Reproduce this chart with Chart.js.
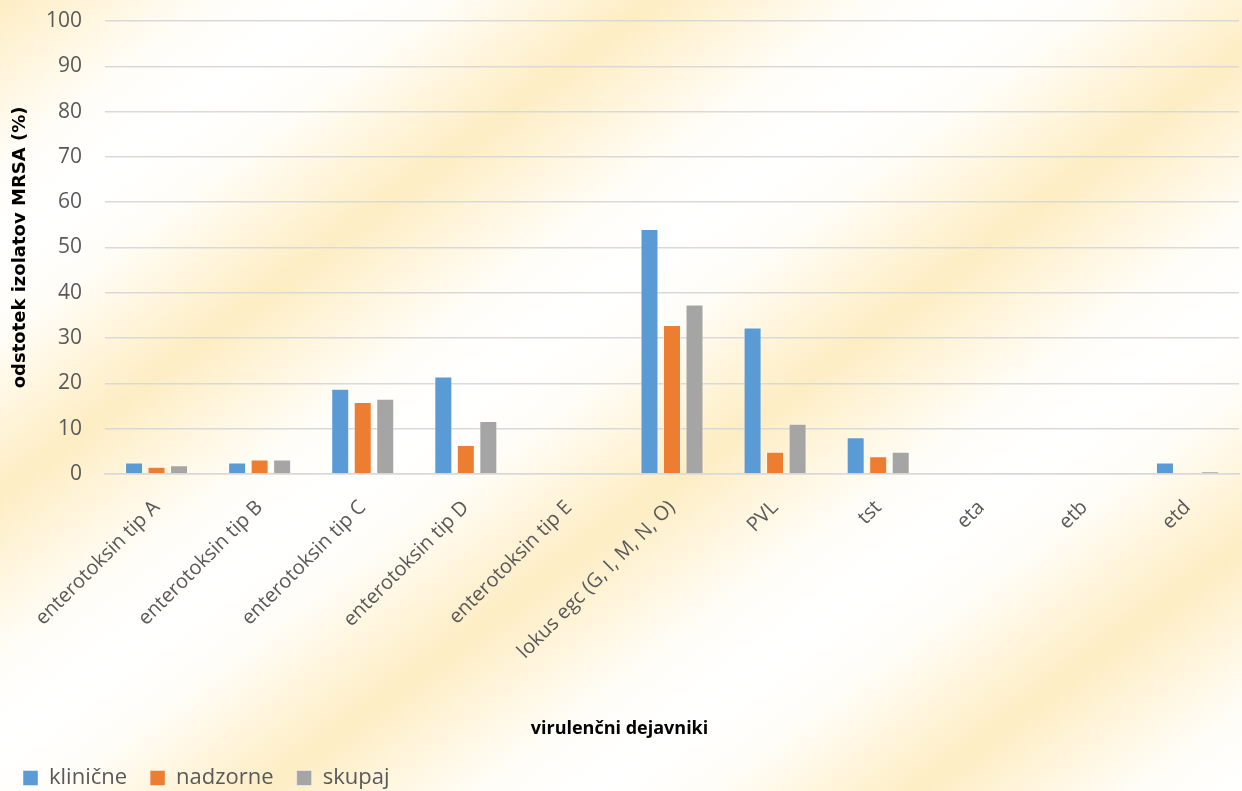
<!DOCTYPE html>
<html lang="sl">
<head>
  <meta charset="UTF-8">
  <title>Virulenčni dejavniki MRSA</title>
  <script src="https://cdn.jsdelivr.net/npm/chart.js"></script>
  <style>
    html, body { margin: 0; padding: 0; }
    body {
      width: 1242px; height: 791px; overflow: hidden;
      background: repeating-linear-gradient(143deg,
        #fdedc3 0px, #fff5dc 60px, #fffdf7 130px, #ffffff 200px, #fffdf7 270px, #fff5dc 335px, #fdedc3 395px);
    }
    #wrap { width: 1242px; height: 791px; }
  </style>
</head>
<body>
<div id="wrap"><canvas id="chart"></canvas></div>

<script>
const categories = [
  "enterotoksin tip A", "enterotoksin tip B", "enterotoksin tip C", "enterotoksin tip D",
  "enterotoksin tip E", "lokus egc (G, I, M, N, O)", "PVL", "tst", "eta", "etb", "etd"
];
const klinicne = [2.5, 2.5, 18.8, 21.5, 0, 54.1, 32.3, 8.1, 0, 0, 2.5];
const nadzorne = [1.6, 3.2, 15.9, 6.4, 0, 32.9, 4.9, 3.9, 0, 0, 0];
const skupaj   = [1.9, 3.2, 16.6, 11.7, 0, 37.4, 11.1, 4.9, 0, 0, 0.6];

const gridColor = "#d9d9d9";
const tickColor = "#595959";

const ctx = document.getElementById("chart").getContext("2d");
new Chart(ctx, {
  type: "bar",
  data: {
    labels: categories,
    datasets: [
      { label: "klinične", data: klinicne, backgroundColor: "#5b9bd5", borderColor: "rgba(255,255,255,0.45)", borderWidth: 1 },
      { label: "nadzorne", data: nadzorne, backgroundColor: "#ed7d31", borderColor: "rgba(255,255,255,0.45)", borderWidth: 1 },
      { label: "skupaj", data: skupaj, backgroundColor: "#a5a5a5", borderColor: "rgba(255,255,255,0.45)", borderWidth: 1 }
    ]
  },
  options: {
    responsive: true,
    maintainAspectRatio: false,
    animation: false,
    layout: { padding: { top: 21, right: 3, left: 0, bottom: -8 } },
    datasets: { bar: { categoryPercentage: 0.655, barPercentage: 0.8 } },
    plugins: {
      tooltip: { enabled: false },
      // x-axis title centred on the whole chart, sitting above the legend
      title: {
        display: true, position: "bottom", align: "center", weight: 500,
        text: "virulenčni dejavniki", color: "#000",
        padding: { top: 0, bottom: 4 },
        font: { family: "Open Sans", size: 18, weight: "bold" }
      },
      legend: {
        position: "bottom",
        align: "start",
        labels: {
          boxWidth: 15, boxHeight: 15, padding: 23,
          color: tickColor,
          font: { family: "Open Sans", size: 22 }
        }
      }
    },
    scales: {
      x: {
        grid: { display: false, drawTicks: false },
        border: { display: true, color: gridColor, width: 1.5 },
        ticks: {
          color: tickColor, padding: 22, autoSkip: false,
          minRotation: 45, maxRotation: 45,
          font: { family: "Open Sans", size: 20 }
        },
        afterFit: s => { s.height = 244.5; s.paddingLeft = 0; s.paddingRight = 0; }
      },
      y: {
        min: 0, max: 100,
        grid: { color: gridColor, lineWidth: 1.5, drawTicks: false },
        border: { display: false },
        ticks: {
          stepSize: 10, color: tickColor, padding: 23,
          font: { family: "Open Sans", size: 21 }
        },
        title: {
          display: true, text: "odstotek izolatov MRSA (%)", color: "#000",
          padding: { top: 10, bottom: 0 },
          font: { family: "DejaVu Sans", size: 18, weight: "bold" }
        },
        afterFit: s => { s.width = 105; s.paddingTop = 0; s.paddingBottom = 0; }
      }
    }
  }
});
</script>
</body>
</html>
